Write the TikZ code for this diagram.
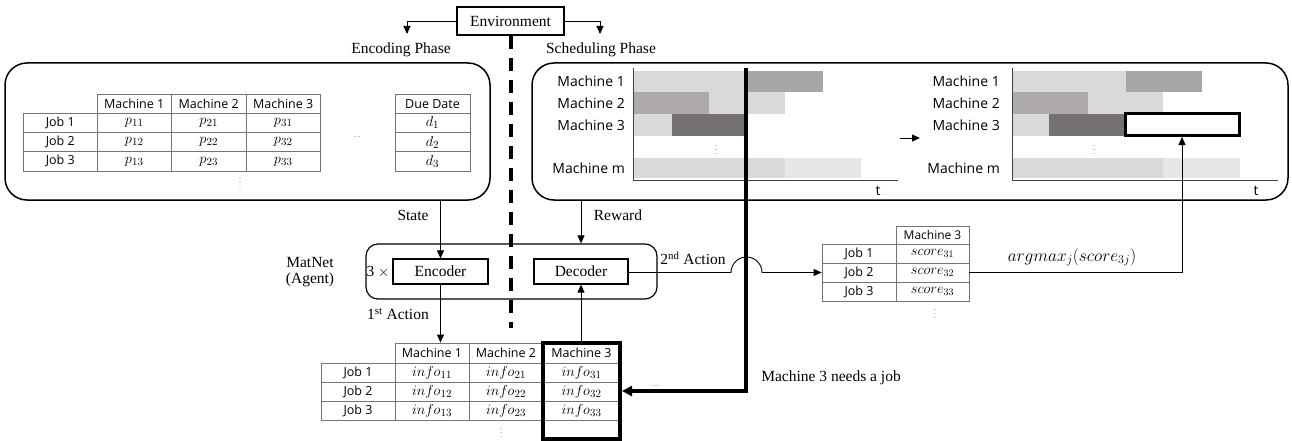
\documentclass[tikz,border=0pt]{standalone}
\usepackage{fontspec}
\setmainfont{Liberation Serif}
\newfontfamily\uifont{Open Sans}
\usetikzlibrary{arrows.meta,calc}
\definecolor{gA}{HTML}{D9D9D9}
\definecolor{gB}{HTML}{A6A6A6}
\definecolor{gC}{HTML}{AEAAAA}
\definecolor{gD}{HTML}{767171}
\definecolor{gE}{HTML}{E7E6E6}
\begin{document}
\begin{tikzpicture}[x=1pt,y=-1pt,
  serif/.style={font=\fontsize{15.5}{18}\selectfont},
  ui/.style={font=\uifont\fontsize{12.5}{14}\selectfont},
  gl/.style={font=\uifont\fontsize{14}{16}\selectfont, anchor=east, inner sep=0pt},
  mth/.style={font=\fontsize{15.5}{17}\selectfont},
  smth/.style={font=\fontsize{14}{16}\selectfont},
  rbox/.style={draw, line width=1.5pt, rounded corners=22pt, inner sep=0pt},
  pbox/.style={draw, line width=1.2pt, inner sep=0pt, serif},
  cell/.style={draw=black!55, line width=0.8pt, minimum width=74.5pt, minimum height=19.25pt, inner sep=0pt},
  conn/.style={draw, line width=0.9pt, -{Triangle[length=8pt,width=7pt]}},
  heavy/.style={draw, line width=4pt},
  dots/.style={text=black!60, font=\fontsize{8}{9}\selectfont, inner sep=0pt},
  axis/.style={draw=black!75, line width=0.9pt}
]
\useasboundingbox (0,0) rectangle (1292,441);

% ---------------- Environment ----------------
\node[pbox, minimum width=107pt, minimum height=28pt] (env) at (510.5,21) {Environment};
\coordinate (encArr) at (407,34);
\coordinate (schArr) at (600,34);
\draw[conn] (env.west) -| (encArr);
\draw[conn] (env.east) -| (schArr);
\node[serif] (encph) at (401,50) {Encoding Phase};
\node[serif] (schph) at (601,50) {Scheduling Phase};
\coordinate (dashEnd) at (510.5,328);
\draw[line width=4pt, dash pattern=on 13pt off 9pt] (env.south) -- (dashEnd);

% ---------------- Encoding box ----------------
\node[rbox, minimum width=485pt, minimum height=137pt] (encbox) at (247.5,131.5) {};
\foreach \c/\x/\t in {1/134.25/Machine 1, 2/208.75/Machine 2, 3/283.25/Machine 3}
  \node[cell, ui] (eh\c) at (\x,103.6) {\t};
\node[cell, ui, minimum width=75pt] (edh) at (432.5,103.6) {Due Date};
\foreach \r/\y in {1/122.9, 2/142.1, 3/161.4} {
  \node[cell, ui] (ej\r) at (60.25,\y) {Job \r};
  \foreach \c/\x in {1/134.25, 2/208.75, 3/283.25}
    \node[cell, mth] (ep\c\r) at (\x,\y) {$p_{\c\r}$};
  \node[cell, mth, minimum width=75pt] (ed\r) at (432.5,\y) {$d_{\r}$};
}
\node[dots] (edots) at (357,137) {\ldots};
\node[dots] (evdots) at (240,180) {$\vdots$};

% ---------------- Scheduling box ----------------
\node[rbox, minimum width=756pt, minimum height=137pt] (schbox) at (910,131.5) {};
% Gantt 1
\fill[gA] (634,71) rectangle (747,92);
\fill[gB] (747,71) rectangle (823,92);
\fill[gC] (634,92) rectangle (709,114);
\fill[gA] (709,92) rectangle (785,114);
\fill[gA] (634,114) rectangle (672,136);
\fill[gD] (672,114) rectangle (747,136);
\fill[gA] (634,158) rectangle (785,178);
\fill[gE] (785,158) rectangle (861,178);
\draw[axis] (633,68) -- (633,180) -- (898,180);
\node[gl] (g1m1) at (625,81.5) {Machine 1};
\node[gl] (g1m2) at (625,103) {Machine 2};
\node[gl] (g1m3) at (625,125) {Machine 3};
\node[gl] (g1mm) at (625,168) {Machine m};
\node[dots] (g1vd) at (716,147) {$\vdots$};
\node[font=\uifont\fontsize{14}{16}\selectfont] (g1t) at (878,191) {t};
% Gantt 2
\fill[gA] (1013,71) rectangle (1126,92);
\fill[gB] (1126,71) rectangle (1202,92);
\fill[gC] (1013,92) rectangle (1088,114);
\fill[gA] (1088,92) rectangle (1163,114);
\fill[gA] (1013,114) rectangle (1049,136);
\fill[gD] (1049,114) rectangle (1125,136);
\fill[gA] (1013,158) rectangle (1163,178);
\fill[gE] (1163,158) rectangle (1240,178);
\draw[axis] (1012,68) -- (1012,180) -- (1278,180);
\node[draw, line width=3pt, fill=white, minimum width=114pt, minimum height=22pt, inner sep=0pt] (wb) at (1182,124.5) {};
\node[gl] (g2m1) at (1000,81.5) {Machine 1};
\node[gl] (g2m2) at (1000,103) {Machine 2};
\node[gl] (g2m3) at (1000,125) {Machine 3};
\node[gl] (g2mm) at (1000,168) {Machine m};
\node[dots] (g2vd) at (1094,147) {$\vdots$};
\node[font=\uifont\fontsize{14}{16}\selectfont] (g2t) at (1256,191) {t};
\coordinate (ga1) at (900,138);
\coordinate (ga2) at (920,138);
\draw[conn] (ga1) -- (ga2);

% ---------------- MatNet ----------------
\node[draw, line width=1.2pt, rounded corners=12pt, minimum width=291pt, minimum height=55pt, inner sep=0pt] (matnet) at (511.5,271.5) {};
\node[pbox, minimum width=95pt, minimum height=25pt] (encoder) at (440.5,271.5) {Encoder};
\node[pbox, minimum width=94pt, minimum height=25pt] (decoder) at (581,271.5) {Decoder};
\node[serif, align=center, inner sep=0pt] (mnlbl) at (310,272) {MatNet\\[-2pt](Agent)};
\node[serif] (times) at (378,272) {3 $\times$};
\node[serif] (statelbl) at (413,215) {State};
\node[serif] (rewlbl) at (618,215) {Reward};
\draw[conn] (encoder.north |- encbox.south) -- (encoder.north);
\draw[conn] (decoder.north |- schbox.south) -- (decoder.north |- matnet.north);

% ---------------- Bottom table ----------------
\foreach \c/\x/\t in {1/432/Machine 1, 2/506/Machine 2}
  \node[cell, ui, minimum width=74pt, minimum height=20.5pt] (bh\c) at (\x,353.25) {\t};
\node[cell, ui, minimum width=77pt, minimum height=20.5pt] (bh3) at (581.5,353.25) {Machine 3};
\foreach \r/\y in {1/373, 2/392, 3/411} {
  \node[cell, ui, minimum width=74pt, minimum height=19pt] (bj\r) at (358,\y) {Job \r};
  \foreach \c/\x in {1/432, 2/506}
    \node[cell, mth, minimum width=74pt, minimum height=19pt] (bi\c\r) at (\x,\y) {$info_{\c\r}$};
  \node[cell, mth, minimum width=77pt, minimum height=19pt] (bi3\r) at (581.5,\y) {$info_{3\r}$};
}
\node[heavy, minimum width=77pt, minimum height=96pt, inner sep=0pt] (m3box) at (581.5,391) {};
\node[dots] (bvd) at (501,430) {$\vdots$};
\node[dots] (bdots) at (655,386) {\ldots};
\node[serif] (act1) at (398,314) {1\textsuperscript{st} Action};
\draw[conn] (encoder.south) -- (encoder.south |- bh1.north);
\draw[conn] (decoder.south |- m3box.north) -- (decoder.south);

% ---------------- Score table ----------------
\node[cell, ui, font=\uifont\fontsize{12}{14}\selectfont, minimum width=73pt, minimum height=18pt] (sh) at (932.5,235) {Machine 3};
\foreach \r/\y in {1/253.5, 2/272.5, 3/291.5} {
  \node[cell, ui, minimum width=74pt, minimum height=19pt] (sj\r) at (859,\y) {Job \r};
  \node[cell, smth, minimum width=73pt, minimum height=19pt] (ss\r) at (932.5,\y) {$score_{3\r}$};
}
\node[dots] (svd) at (935,311) {$\vdots$};
\node[font=\fontsize{17}{19}\selectfont] (argm) at (1072,257) {$argmax_j(score_{3j})$};
\node[serif] (act2) at (693,258) {2\textsuperscript{nd} Action};
\coordinate (hopA) at (731,272.5);
\draw[conn] (decoder.east |- hopA) -- (hopA) arc[start angle=180, end angle=0, radius=15.5pt] -- (sj2.west);
\draw[conn] (ss2.east) -| (wb.south);

% ---------------- heavy cut line ----------------
\coordinate (cut) at (746,68);
\draw[heavy, -{Triangle[length=10pt,width=10pt]}] (cut) |- (m3box.east);
\node[serif] (needs) at (831,378) {Machine 3 needs a job};
\end{tikzpicture}
\end{document}
